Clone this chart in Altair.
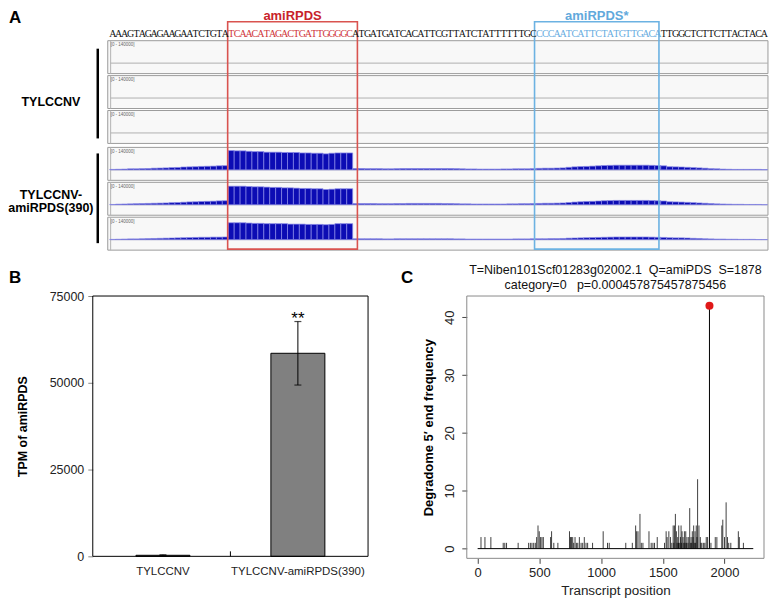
import altair as alt
import pandas as pd

# ======================= DATA =======================
# ---- Panel A: sequence, boxes, coverage ----
SEQ_PRE = "AAAGTAGAGAAGAATCTGTA"
SEQ_AMI = "TCAACATAGACTGATTGGGGC"
SEQ_MID = "ATGATGATCACATTCGTTATCTATTTTTTGC"
SEQ_STAR = "CCCAATCATTCTATGTTGACA"
SEQ_POST = "TTGGCTCTTCTTACTACA"

box_names = ["amiRPDS", "amiRPDS*"]
box_start_nt = [19.4, 71.2]
box_end_nt = [41.3, 92.2]

track_range_label = "[0 - 140000]"
track_range_max_k = 140  # thousands of reads

# coverage per nucleotide (thousands of reads), TYLCCNV-amiRPDS(390) replicates
cov_rep1 = [3, 4, 5, 7, 7, 8, 9, 11, 12, 13, 15, 16, 19, 20, 21, 23, 24, 25, 27, 28,
            129, 127, 127, 124, 122, 122, 118, 118, 118, 116, 116, 116, 113, 113, 111, 111, 107, 111, 113, 113, 113,
            9, 9, 8, 8, 8, 7, 7, 8, 9, 9, 9, 9, 9, 9, 9, 9, 9, 8, 7, 6, 6, 5, 5, 5, 5, 6, 6, 7, 7, 7, 8,
            10, 11, 11, 12, 13, 17, 20, 22, 23, 25, 27, 29, 30, 31, 31, 31, 31, 31, 31, 30, 29,
            27, 21, 20, 19, 17, 15, 13, 11, 8, 7, 5, 4, 3, 3, 3, 3, 3, 2]
cov_rep2 = [2, 4, 5, 6, 7, 8, 9, 10, 11, 12, 14, 15, 17, 19, 20, 22, 23, 24, 26, 27,
            124, 124, 124, 122, 120, 120, 118, 116, 116, 113, 113, 111, 109, 109, 107, 107, 102, 104, 107, 107, 107,
            8, 8, 8, 8, 7, 7, 7, 8, 8, 9, 9, 9, 9, 9, 9, 8, 8, 7, 6, 6, 5, 5, 5, 5, 5, 5, 6, 6, 7, 7, 8,
            9, 10, 10, 11, 12, 15, 18, 20, 22, 23, 25, 27, 28, 29, 29, 29, 29, 29, 29, 28, 27,
            25, 20, 19, 18, 16, 14, 12, 10, 8, 6, 5, 4, 3, 3, 2, 2, 2, 1]
cov_rep3 = [2, 3, 4, 5, 5, 6, 7, 8, 9, 10, 11, 12, 13, 14, 15, 16, 16, 17, 17, 18,
            113, 113, 113, 111, 109, 109, 107, 107, 107, 107, 104, 104, 104, 102, 102, 102, 100, 102, 107, 107, 107,
            6, 6, 6, 6, 6, 5, 5, 6, 6, 6, 6, 6, 6, 6, 6, 6, 6, 5, 5, 4, 4, 4, 4, 4, 4, 4, 4, 5, 5, 5, 6,
            6, 6, 7, 7, 8, 10, 11, 12, 13, 14, 15, 16, 17, 18, 18, 18, 18, 18, 18, 17, 16,
            15, 13, 12, 12, 11, 9, 8, 6, 5, 4, 4, 3, 3, 2, 2, 2, 1, 1]

# ---- Panel B ----
b_groups = ["TYLCCNV", "TYLCCNV-amiRPDS(390)"]
b_tpm = [300, 58500]
b_err = [150, 9150]
b_sig = ["", "**"]

# ---- Panel C ----
deg_pos = [
    27, 59, 107, 207, 220, 234, 328, 413, 427, 440,
    454, 467, 478, 489, 499, 510, 521, 532, 591, 599,
    617, 650, 744, 752, 760, 770, 778, 789, 800, 811,
    824, 838, 851, 864, 878, 891, 931, 1017, 1052, 1066,
    1200, 1253, 1280, 1288, 1299, 1315, 1326, 1339, 1388, 1406,
    1420, 1433, 1455, 1514, 1527, 1535, 1549, 1562, 1573, 1584,
    1589, 1594, 1602, 1610, 1616, 1621, 1627, 1629, 1637, 1643,
    1648, 1653, 1656, 1664, 1670, 1675, 1680, 1686, 1691, 1696,
    1704, 1710, 1718, 1723, 1729, 1734, 1739, 1745, 1750, 1755,
    1761, 1766, 1771, 1777, 1782, 1793, 1804, 1809, 1817, 1831,
    1841, 1852, 1863, 1890, 1925, 1938, 1978, 1986, 2000, 2013,
    2024, 2034, 2051, 2112, 2120, 2153]
deg_freq = [
    2, 2, 2, 1, 1, 1, 1, 1, 1, 1,
    1, 1, 2, 4, 3, 2, 2, 2, 2, 3,
    1, 1, 3, 2, 2, 2, 1, 2, 1, 1,
    2, 1, 1, 2, 1, 1, 1, 3, 1, 1,
    1, 1, 4, 3, 3, 6, 1, 1, 3, 1,
    1, 1, 2, 1, 3, 2, 3, 2, 1, 4,
    1, 4, 6, 3, 1, 2, 1, 4, 1, 2,
    4, 1, 3, 2, 1, 3, 1, 3, 1, 2,
    1, 2, 7, 1, 2, 1, 3, 2, 4, 1,
    3, 1, 4, 2, 12, 4, 2, 1, 1, 1,
    1, 2, 2, 1, 2, 2, 4, 5, 2, 8,
    2, 1, 1, 3, 2, 1]
target_pos = [1878]
target_freq = [42]
transcript_len = [2233]
c_title = ["T=Niben101Scf01283g02002.1\u00a0\u00a0Q=amiPDS\u00a0\u00a0S=1878",
           "category=0\u00a0\u00a0\u00a0p=0.000457875457875456"]

# ======================= LAYOUT =======================
FONT = "Liberation Sans"
A_W, A_H = 677, 244
B_W, B_H = 276, 261
C_W, C_H = 298, 263

RED_BOX, BLUE_BOX = "#d9534f", "#6cb2e2"
RED_TXT, BLUE_TXT = "#c8232a", "#62a9dc"

xs = alt.Scale(domain=[-3.367, 110.606], nice=False, zero=False)
ys = alt.Scale(domain=[-0.9143, 6.0571], nice=False, zero=False, reverse=True)


def track_top(k):
    return k + (0.057 if k >= 3 else 0.0)


TRACK_H = 0.943
BASE_OFF = 0.643
COV_H = 0.6

frames = pd.DataFrame({"k": list(range(6))})
frames["top"] = [track_top(k) for k in range(6)]
frames["bot"] = frames["top"] + TRACK_H
frames["base"] = frames["top"] + BASE_OFF
frames["laby"] = frames["top"] + 0.13
frames["x0"] = -0.84
frames["xd"] = -0.35
frames["x1"] = 110.6
frames["lab"] = track_range_label

rows = []
for r, rep in enumerate([cov_rep1, cov_rep2, cov_rep3]):
    base = track_top(3 + r) + BASE_OFF
    for i, v in enumerate(rep):
        rows.append({"x0": i - 0.5, "x1": i + 0.5, "y0": base,
                     "y1": base - v / track_range_max_k * COV_H})
cov = pd.DataFrame(rows)

seq = SEQ_PRE + SEQ_AMI + SEQ_MID + SEQ_STAR + SEQ_POST
seg_col = (["#111111"] * len(SEQ_PRE) + ["#d0353a"] * len(SEQ_AMI) + ["#111111"] * len(SEQ_MID)
           + ["#66acdf"] * len(SEQ_STAR) + ["#111111"] * len(SEQ_POST))
seq_df = pd.DataFrame({"nt": list(range(len(seq))), "b": list(seq), "col": seg_col})

boxes = pd.DataFrame({"name": box_names, "x0": box_start_nt, "x1": box_end_nt,
                      "stroke": [RED_BOX, BLUE_BOX], "tcol": [RED_TXT, BLUE_TXT]})
boxes["mid"] = (boxes["x0"] + boxes["x1"]) / 2
boxes["top"] = -0.543
boxes["bot"] = 5.97

groups_bar = pd.DataFrame({"x": [-2.525, -2.525], "y0": [0.229, 3.23], "y1": [2.8, 5.8]})

X = lambda f: alt.X(f, type="quantitative", scale=xs, axis=None)
Y = lambda f: alt.Y(f, type="quantitative", scale=ys, axis=None)

frame_l = alt.Chart(frames).mark_rect(fill="#f8f8f8", stroke="#9c9c9c", strokeWidth=1).encode(
    x=X("x0"), x2="x1", y=Y("top"), y2="bot")
inner_l = alt.Chart(frames).mark_rule(color="#b4b4b4", strokeWidth=1).encode(
    x=X("xd"), y=Y("top"), y2="bot")
base_l = alt.Chart(frames).mark_rule(color="#b0b0b0", strokeWidth=1).encode(
    x=X("xd"), x2="x1", y=Y("base"))
lab_l = alt.Chart(frames).mark_text(fontSize=4.5, color="#666666", align="left", baseline="middle", font=FONT).encode(
    x=X("xd"), y=Y("laby"), text="lab:N")
cov_l = alt.Chart(cov).mark_rect(fill="#0c0cb4", stroke="#8a8ae8", strokeWidth=0.7).encode(
    x=X("x0"), x2="x1", y=Y("y0"), y2="y1")
box_l = alt.Chart(boxes).mark_rect(fillOpacity=0, strokeWidth=1.6).encode(
    x=X("x0"), x2="x1", y=Y("top"), y2="bot", stroke=alt.Stroke("stroke:N", scale=None))
boxlab_l = alt.Chart(boxes).mark_text(fontSize=13, fontWeight="bold", font=FONT, baseline="middle").encode(
    x=X("mid"), y=alt.value(7), text="name:N", color=alt.Color("tcol:N", scale=None))
seq_l = alt.Chart(seq_df).mark_text(fontSize=10, font="Liberation Serif", baseline="middle").encode(
    x=X("nt"), y=alt.value(25), text="b:N", color=alt.Color("col:N", scale=None))
gbar_l = alt.Chart(groups_bar).mark_rule(color="black", strokeWidth=2.5).encode(
    x=X("x"), y=Y("y0"), y2="y1")


def label(txt, x, y, size=12.5, weight="bold", align="center", color="black"):
    return alt.Chart(pd.DataFrame({"t": [txt]})).mark_text(
        fontSize=size, fontWeight=weight, font=FONT, align=align, baseline="middle", color=color
    ).encode(x=alt.value(x), y=alt.value(y), text="t:N")


panel_a = alt.layer(
    frame_l, inner_l, base_l, lab_l, cov_l, box_l, boxlab_l, seq_l, gbar_l,
    label("A", -84, 9, size=17, align="left"),
    label("TYLCCNV", -42, 93),
    label("TYLCCNV-", -42, 187),
    label("amiRPDS(390)", -42, 200),
).properties(width=A_W, height=A_H)

# ---- Panel B ----
bdf = pd.DataFrame({"group": b_groups, "tpm": b_tpm, "err": b_err, "sig": b_sig})
bdf["lo"] = bdf["tpm"] - bdf["err"]
bdf["hi"] = bdf["tpm"] + bdf["err"]
bxs = alt.Scale(domain=b_groups, paddingInner=0.6, paddingOuter=0.32)
bys = alt.Scale(domain=[0, 75000], nice=False, zero=False)

b_bars = alt.Chart(bdf).mark_bar(fill="#808080", stroke="black", strokeWidth=1).encode(
    x=alt.X("group:N", scale=bxs, sort=b_groups,
            axis=alt.Axis(title=None, labelAngle=0, ticks=False, domain=False, labelFontSize=11.5,
                          labelPadding=9, labelColor="#222222")),
    y=alt.Y("tpm:Q", scale=bys,
            axis=alt.Axis(values=[0, 25000, 50000, 75000], format="d", tickSize=5, domain=False,
                          grid=False, labelFontSize=12.5, labelPadding=4, labelColor="#222222",
                          title="TPM of amiRPDS", titleFontSize=12.5, titleFontWeight="bold",
                          titlePadding=20)))
b_err_l = alt.Chart(bdf).mark_rule(color="black", strokeWidth=1).encode(
    x=alt.X("group:N", sort=b_groups), y="lo:Q", y2="hi")
b_cap_hi = alt.Chart(bdf).mark_tick(color="black", thickness=1.2, size=7).encode(
    x=alt.X("group:N", sort=b_groups), y="hi:Q")
b_cap_lo = alt.Chart(bdf).mark_tick(color="black", thickness=1.2, size=7).encode(
    x=alt.X("group:N", sort=b_groups), y="lo:Q")
b_sig_l = alt.Chart(bdf).mark_text(fontSize=17, font=FONT, baseline="middle", dy=-3).encode(
    x=alt.X("group:N", sort=b_groups), y="hi:Q", text="sig:N")
b_sep = alt.Chart(pd.DataFrame({"t": [0]})).mark_rule(color="black", strokeWidth=1).encode(
    x=alt.value(B_W / 2), y=alt.value(B_H), y2=alt.value(B_H - 5))
b_frame = alt.Chart(pd.DataFrame({"t": [0]})).mark_rect(fillOpacity=0, stroke="black", strokeWidth=1).encode(
    x=alt.value(0), x2=alt.value(B_W), y=alt.value(0), y2=alt.value(B_H))

panel_b = alt.layer(
    b_bars, b_err_l, b_cap_hi, b_cap_lo, b_sig_l, b_sep, b_frame,
    label("B", -84, -18, size=17, align="left"),
).properties(width=B_W, height=B_H)

# ---- Panel C ----
cdf = pd.DataFrame({"pos": deg_pos, "freq": deg_freq})
tdf = pd.DataFrame({"pos": target_pos, "freq": target_freq})
ldf = pd.DataFrame({"pos": [0], "x1": transcript_len, "freq": [0]})
cxs = alt.Scale(domain=[-88, 2320], nice=False, zero=False)
cys = alt.Scale(domain=[-1.68, 43.68], nice=False, zero=False)

c_base = alt.Chart(ldf).mark_rule(color="black", strokeWidth=1).encode(
    x=alt.X("pos:Q", scale=cxs,
            axis=alt.Axis(values=[0, 500, 1000, 1500, 2000], format="d", tickSize=5, tickColor="#444444",
                          domain=False, grid=False, labelFontSize=13, labelPadding=3, labelColor="#222222",
                          title="Transcript position", titleFontSize=13.5, titleFontWeight="normal",
                          titlePadding=4, titleColor="#222222")),
    x2="x1",
    y=alt.Y("freq:Q", scale=cys,
            axis=alt.Axis(values=[0, 10, 20, 30, 40], tickSize=5, tickColor="#444444", domain=False,
                          grid=False, labelAngle=270, labelAlign="center", labelBaseline="bottom",
                          labelFontSize=13, labelPadding=5, labelColor="#222222",
                          title="Degradome 5\u2032 end frequency", titleFontSize=13,
                          titleFontWeight="bold", titlePadding=8, titleColor="black")))
c_lines = alt.Chart(cdf).mark_rule(color="black", strokeWidth=1, opacity=0.75).encode(
    x="pos:Q", y="freq:Q", y2=alt.datum(0))
c_target = alt.Chart(tdf).mark_rule(color="black", strokeWidth=1).encode(
    x="pos:Q", y="freq:Q", y2=alt.datum(0))
c_dot = alt.Chart(tdf).mark_circle(color="#e01818", size=65, opacity=1).encode(
    x="pos:Q", y="freq:Q")
c_frame = alt.Chart(pd.DataFrame({"t": [0]})).mark_rect(fillOpacity=0, stroke="#8a8a8a", strokeWidth=1).encode(
    x=alt.value(0), x2=alt.value(C_W), y=alt.value(0), y2=alt.value(C_H))

panel_c = alt.layer(
    c_base, c_lines, c_target, c_dot, c_frame,
    label("C", -66, -18, size=17, align="left"),
    label(c_title[0], C_W / 2, -26, size=12.5, weight="normal", color="#111111"),
    label(c_title[1], C_W / 2, -11, size=12.5, weight="normal", color="#111111"),
).properties(width=C_W, height=C_H)

row2 = alt.hconcat(panel_b, panel_c, spacing=32)
chart = alt.vconcat(panel_a, row2, spacing=12).properties(padding=0)
chart = chart.configure_view(stroke=None).configure_axis(labelFont=FONT, titleFont=FONT)

chart.save("out.html", embed_options={"renderer": "svg", "actions": False})
